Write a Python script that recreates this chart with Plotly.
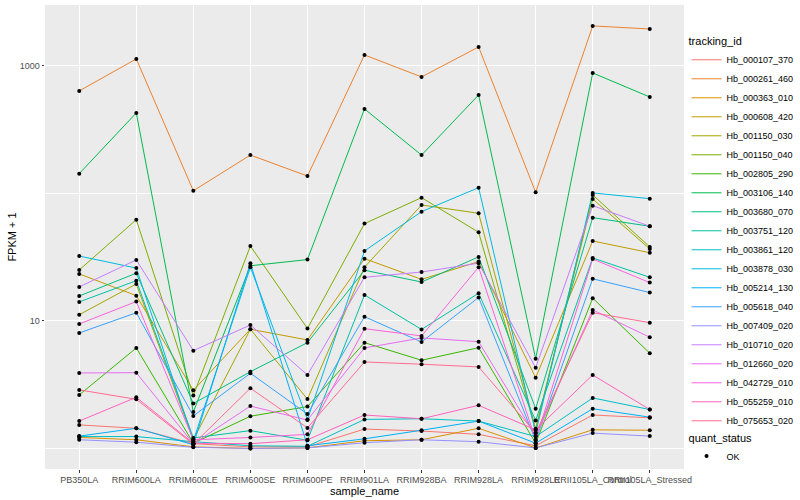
import plotly.graph_objects as go

samples = ["PB350LA", "RRIM600LA", "RRIM600LE", "RRIM600SE", "RRIM600PE", "RRIM901LA",
           "RRIM928BA", "RRIM928LA", "RRIM928LE", "RRII105LA_Control", "RRII105LA_Stressed"]

# FPKM + 1 values, one list per tracking_id (order follows samples)
hb_000107_370 = [1.53, 1.44, 1.09, 1.03, 1.03, 1.42, 1.37, 1.29, 1.05, 1.83, 1.74]
hb_000261_460 = [637, 1135, 105, 200, 137, 1220, 820, 1409, 102, 2060, 1950]
hb_000363_010 = [1.22, 1.17, 1.03, 1.00, 1.01, 1.15, 1.17, 1.44, 1.01, 1.40, 1.39]
hb_000608_420 = [23.4, 15.8, 2.86, 8.61, 7.10, 30.8, 21.2, 29.2, 3.59, 42.4, 34.3]
hb_001150_030 = [11.2, 19.5, 1.17, 8.61, 2.44, 26.4, 81.2, 69.9, 1.43, 90.5, 36.7]
hb_001150_040 = [25.1, 62.3, 2.60, 38.7, 8.73, 58.0, 92.7, 49.6, 1.40, 97.3, 38.1]
hb_002805_290 = [2.63, 6.14, 1.10, 1.79, 2.13, 6.76, 4.92, 6.17, 1.10, 15.1, 5.58]
hb_003106_140 = [143, 428, 1.93, 27.1, 30.3, 460, 200, 592, 5.06, 881, 571]
hb_003680_070 = [15.7, 23.7, 2.25, 4.00, 6.76, 25.0, 20.2, 31.8, 2.05, 64.6, 55.3]
hb_003751_120 = [14.1, 20.7, 1.21, 1.38, 1.16, 16.0, 8.58, 16.5, 1.66, 31.2, 22.0]
hb_003861_120 = [1.24, 1.24, 1.13, 1.05, 1.04, 1.69, 1.71, 1.64, 1.24, 2.49, 2.02]
hb_003878_030 = [32.3, 26.0, 1.15, 26.4, 1.69, 35.4, 72.0, 111, 1.32, 101, 91.0]
hb_005214_130 = [1.25, 1.44, 1.07, 28.4, 1.05, 1.19, 1.39, 1.64, 1.10, 2.05, 1.76]
hb_005618_040 = [8.05, 11.6, 1.80, 3.89, 1.86, 10.8, 6.84, 15.3, 1.15, 21.4, 16.7]
hb_007409_020 = [1.17, 1.12, 1.02, 1.00, 1.01, 1.11, 1.17, 1.13, 1.01, 1.32, 1.25]
hb_010710_020 = [18.5, 30.1, 5.85, 9.30, 3.77, 22.0, 24.2, 28.4, 4.30, 80.2, 55.3]
hb_012660_020 = [3.91, 3.93, 1.09, 2.15, 1.67, 6.14, 7.36, 6.88, 1.25, 12.2, 7.45]
hb_042729_010 = [9.47, 14.2, 1.17, 1.22, 1.29, 8.70, 7.63, 26.4, 1.17, 30.6, 20.0]
hb_055259_010 = [1.64, 2.52, 1.10, 1.09, 1.17, 1.83, 1.71, 2.18, 1.40, 3.77, 2.02]
hb_075653_020 = [2.88, 2.43, 1.08, 2.97, 1.45, 4.77, 4.58, 4.36, 1.32, 11.6, 9.70]

tracking_ids = ["Hb_000107_370", "Hb_000261_460", "Hb_000363_010", "Hb_000608_420",
                "Hb_001150_030", "Hb_001150_040", "Hb_002805_290", "Hb_003106_140",
                "Hb_003680_070", "Hb_003751_120", "Hb_003861_120", "Hb_003878_030",
                "Hb_005214_130", "Hb_005618_040", "Hb_007409_020", "Hb_010710_020",
                "Hb_012660_020", "Hb_042729_010", "Hb_055259_010", "Hb_075653_020"]
series_values = [hb_000107_370, hb_000261_460, hb_000363_010, hb_000608_420,
                 hb_001150_030, hb_001150_040, hb_002805_290, hb_003106_140,
                 hb_003680_070, hb_003751_120, hb_003861_120, hb_003878_030,
                 hb_005214_130, hb_005618_040, hb_007409_020, hb_010710_020,
                 hb_012660_020, hb_042729_010, hb_055259_010, hb_075653_020]
colors = ["#F8766D", "#EA8331", "#D89000", "#C09B00", "#A3A500", "#7CAE00", "#39B600",
          "#00BB4E", "#00BF7D", "#00C1A3", "#00BFC4", "#00BAE0", "#00B0F6", "#35A2FF",
          "#9590FF", "#C77CFF", "#E76BF3", "#FA62DB", "#FF62BC", "#FF6C91"]

fig = go.Figure()
for name, vals, col in zip(tracking_ids, series_values, colors):
    fig.add_trace(go.Scatter(x=samples, y=vals, mode="lines", name=name,
                             line=dict(color=col, width=1), legend="legend"))

all_x, all_y = [], []
for vals in series_values:
    all_x += samples
    all_y += vals
fig.add_trace(go.Scatter(x=all_x, y=all_y, mode="markers", name="OK",
                         marker=dict(color="black", size=4, symbol="circle"),
                         legend="legend2"))

font = "Liberation Sans, Arial, sans-serif"
fig.update_layout(
    width=800, height=500,
    margin=dict(l=45, r=116, t=5, b=31, autoexpand=False),
    paper_bgcolor="white", plot_bgcolor="#EBEBEB",
    font=dict(family=font, color="black"),
    legend=dict(title=dict(text="tracking_id", font=dict(size=11)),
                font=dict(size=9, color="black"), x=1.004, xanchor="left",
                y=0.944, yanchor="top", itemwidth=30, bgcolor="rgba(0,0,0,0)",
                tracegroupgap=0),
    legend2=dict(title=dict(text="quant_status", font=dict(size=11)),
                 font=dict(size=9, color="black"), x=1.004, xanchor="left",
                 y=0.09, yanchor="top", itemwidth=30, bgcolor="rgba(0,0,0,0)"),
    xaxis=dict(type="category", categoryorder="array", categoryarray=samples,
               range=[-0.6, 10.6], showgrid=True, gridcolor="white", gridwidth=1.1,
               zeroline=False, ticks="outside", ticklen=2.5, tickcolor="#333333",
               tickangle=0, tickfont=dict(size=9, color="#4D4D4D"), automargin=False,
               title=dict(text="sample_name", font=dict(size=11), standoff=0),
               showline=False),
    yaxis=dict(type="log", range=[-0.161, 3.478], tickmode="array",
               tickvals=[10, 1000], ticktext=["10", "1000"], automargin=False,
               showgrid=True, gridcolor="white", gridwidth=1.1, zeroline=False,
               ticks="outside", ticklen=2.5, tickcolor="#333333",
               tickfont=dict(size=9, color="#4D4D4D"),
               minor=dict(tickmode="array", tickvals=[1, 100], showgrid=True,
                          gridcolor="white", gridwidth=0.5, ticks=""),
               title=dict(text="FPKM + 1", font=dict(size=11), standoff=0),
               showline=False),
)

fig.write_html("out.html", config={"displayModeBar": False},
               post_script="document.body.style.margin='0';")
